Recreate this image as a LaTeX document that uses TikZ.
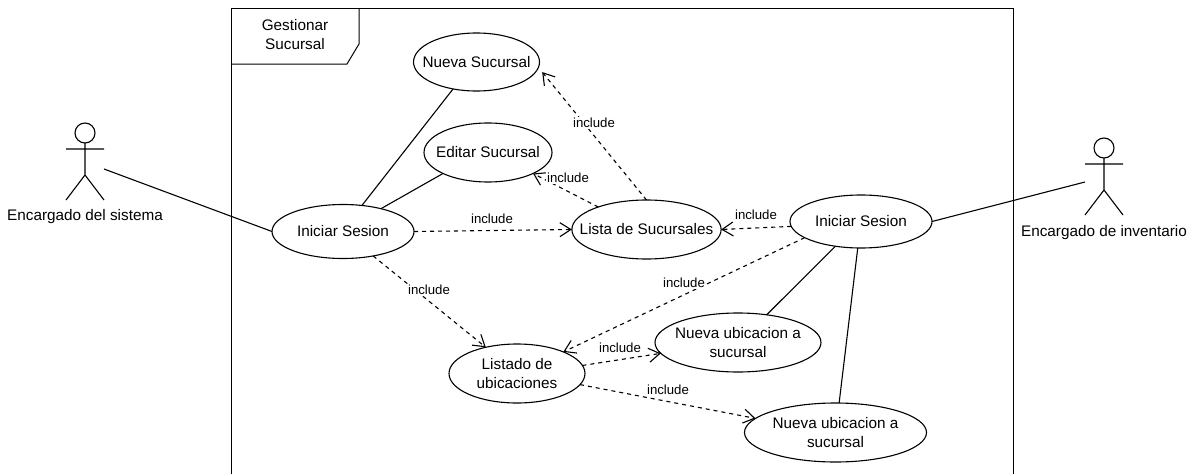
\documentclass[tikz,border=0pt]{standalone}
\usepackage{fontspec}
\setmainfont{Liberation Sans}
\usetikzlibrary{arrows.meta}
\usetikzlibrary{shapes.geometric}
\tikzstyle{usecase}=[ellipse, draw, line width=1.1pt, inner sep=-14pt, outer sep=0pt, align=center, font=\fontsize{15.3}{19}\selectfont]
\tikzstyle{actorname}=[inner sep=0pt, font=\fontsize{15.3}{17}\selectfont]
\tikzstyle{includes}=[draw=black, line width=1.1pt, dash pattern=on 4pt off 4pt, -{Straight Barb[length=11pt,width=14pt,line width=1.1pt]}]
\tikzstyle{assoc}=[draw=black, line width=1.1pt]
\tikzstyle{inclabel}=[fill=white, inner sep=1pt, font=\fontsize{13.2}{15}\selectfont]
\newcommand{\usecase}{\node[usecase]}
\newcommand{\inclabel}{\node[inclabel]}
\begin{document}
\begin{tikzpicture}[x=1pt,y=-1pt]
            \useasboundingbox (0,0) rectangle (1197,474);
            % frame
            \draw[assoc, line width=1pt] (231,474) -- (231,8) -- (1013,8) -- (1013,474);
            \draw[assoc, line width=1pt] (231,64) -- (347,64) -- (359,44) -- (359,8);
            \node[inner sep=0pt, align=center, font=\fontsize{15.3}{19}\selectfont] (title) at (295,35) {Gestionar\\Sucursal};
            % actors
            \node[circle, draw, line width=1.1pt, minimum size=20pt, inner sep=0pt, outer sep=0pt] (headA) at (85,133) {};
            \coordinate (hipA) at (85,175);
            \coordinate (armA) at (66,149);
            \coordinate (handA) at (104,149);
            \coordinate (footA) at (66,200);
            \coordinate (toeA) at (104,200);
            \coordinate (sideA) at (104,169);
            \draw[assoc] (headA) -- (hipA) (armA) -- (handA) (footA) -- (hipA) -- (toeA);
            \node[actorname] (nameA) at (85,217) {Encargado del sistema};
            \node[circle, draw, line width=1.1pt, minimum size=20pt, inner sep=0pt, outer sep=0pt] (headB) at (1104,148) {};
            \coordinate (hipB) at (1104,190);
            \coordinate (armB) at (1085,164);
            \coordinate (handB) at (1123,164);
            \coordinate (footB) at (1085,215);
            \coordinate (toeB) at (1123,215);
            \coordinate (sideB) at (1085,182);
            \draw[assoc] (headB) -- (hipB) (armB) -- (handB) (footB) -- (hipB) -- (toeB);
            \node[actorname] (nameB) at (1104,233) {Encargado de inventario};
            % use cases
            \usecase (nueva) [minimum width=126pt, minimum height=58pt] at (476.5,62) {Nueva Sucursal};
            \usecase (editar) [minimum width=128pt, minimum height=59pt] at (488,152.5) {Editar Sucursal};
            \usecase (iniA) [minimum width=142pt, minimum height=54pt] at (343,231.5) {Iniciar Sesion};
            \usecase (lista) [minimum width=147pt, minimum height=59pt] at (646.5,229.5) {Lista de Sucursales};
            \usecase (iniB) [minimum width=142pt, minimum height=53pt] at (861,221.5) {Iniciar Sesion};
            \usecase (listado) [minimum width=136pt, minimum height=59pt] at (517,373.5) {Listado de\\ubicaciones};
            \usecase (ubiA) [minimum width=166pt, minimum height=59pt] at (738,342.5) {Nueva ubicacion a\\sucursal};
            \usecase (ubiB) [minimum width=182pt, minimum height=59pt] at (835.5,432.5) {Nueva ubicacion a\\sucursal};
            % connectors
            \path[assoc]
                (sideA) edge (iniA.west)
                (sideB) edge (iniB.east)
                (iniA.54) edge (nueva.229)
                (iniA.31) edge (editar.205)
                (iniB.224) edge (ubiA.44)
                (iniB.263) edge (ubiB.83)
            ;
            \draw[includes] (iniA.east) -- (lista.west);
            \draw[includes] (iniA.321) -- (listado.140);
            \draw[includes, shorten >=6pt] (lista.north) -- (nueva.-5);
            \draw[includes] (lista.155) -- (editar.335);
            \draw[includes] (iniB.184) -- (lista.east);
            \draw[includes] (iniB.196) -- (listado.25);
            \draw[includes] (listado.7) -- (ubiA.188);
            \draw[includes] (listado.350) -- (ubiB.170);
            % labels
            \inclabel (lblA) at (492,219) {include};
            \inclabel (lblB) at (429,290) {include};
            \inclabel (lblC) at (594,123) {include};
            \inclabel (lblD) at (568,178) {include};
            \inclabel (lblE) at (756,215) {include};
            \inclabel (lblF) at (684,283) {include};
            \inclabel (lblG) at (620,348) {include};
            \inclabel (lblH) at (668,390) {include};
        \end{tikzpicture}
\end{document}
